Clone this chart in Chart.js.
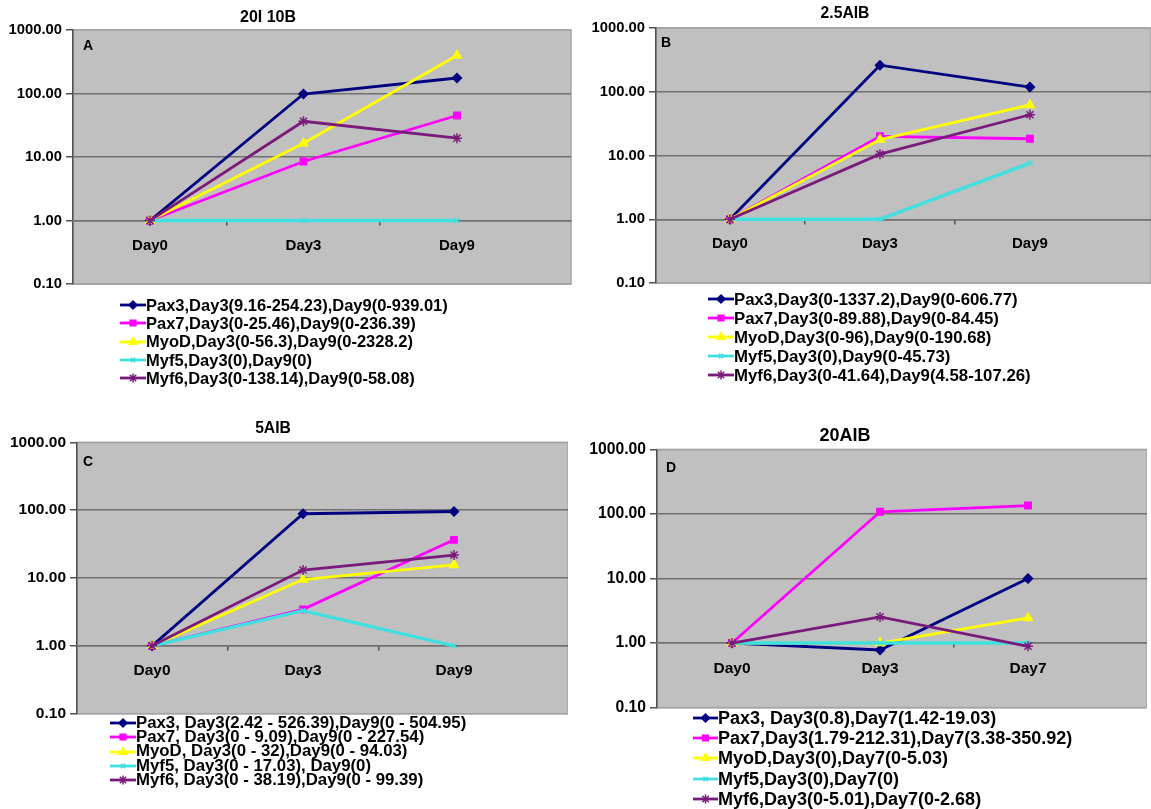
<!DOCTYPE html>
<html><head><meta charset="utf-8">
<script src="https://cdn.jsdelivr.net/npm/chart.js@4.4.1/dist/chart.umd.min.js"></script>
<style>
html,body{margin:0;padding:0;background:#fff;}
body{width:1151px;height:809px;position:relative;overflow:hidden;font-family:'Liberation Sans',Arial,Helvetica,sans-serif;color:#000;}
canvas{position:absolute;}
.title,.letter{position:absolute;font-weight:bold;white-space:nowrap;transform:translate(-50%,-50%);line-height:1;}
.lrow{position:absolute;display:flex;align-items:center;white-space:nowrap;font-weight:bold;}
.lrow canvas{position:static;display:block;}
</style></head><body>
<script>
// ---------- data ----------
const seriesNames = ['Pax3','Pax7','MyoD','Myf5','Myf6'];
const categoriesDay9 = ['Day0','Day3','Day9'];
const categoriesDay7 = ['Day0','Day3','Day7'];
const panelTitles = ['20I 10B','2.5AIB','5AIB','20AIB'];
const panelLetters = ['A','B','C','D'];
const yTickValues = [0.1,1,10,100,1000];
const yTickLabels = ['0.10','1.00','10.00','100.00','1000.00'];

// Panel A (20I 10B)
const pax3A = [1, 98, 175];
const pax7A = [1, 8.5, 45];
const myoDA = [1, 16.5, 395];
const myf5A = [1, 1, 1];
const myf6A = [1, 36.5, 19.8];
// Panel B (2.5AIB)
const pax3B = [1, 260, 118];
const pax7B = [1, 20, 18.3];
const myoDB = [1, 17.8, 62];
const myf5B = [1, 1, 7.6];
const myf6B = [1, 10.5, 43.5];
// Panel C (5AIB)
const pax3C = [1, 88.5, 95.5];
const pax7C = [1, 3.45, 36.5];
const myoDC = [1, 9.5, 15.6];
const myf5C = [1, 3.3, 1];
const myf6C = [1, 13.1, 21.8];
// Panel D (20AIB)
const pax3D = [1, 0.78, 10];
const pax7D = [1, 108, 135];
const myoDD = [1, 1, 2.45];
const myf5D = [1, 1, 1];
const myf6D = [1, 2.54, 0.89];

const legendA = ['Pax3,Day3(9.16-254.23),Day9(0-939.01)','Pax7,Day3(0-25.46),Day9(0-236.39)','MyoD,Day3(0-56.3),Day9(0-2328.2)','Myf5,Day3(0),Day9(0)','Myf6,Day3(0-138.14),Day9(0-58.08)'];
const legendB = ['Pax3,Day3(0-1337.2),Day9(0-606.77)','Pax7,Day3(0-89.88),Day9(0-84.45)','MyoD,Day3(0-96),Day9(0-190.68)','Myf5,Day3(0),Day9(0-45.73)','Myf6,Day3(0-41.64),Day9(4.58-107.26)'];
const legendC = ['Pax3, Day3(2.42 - 526.39),Day9(0 - 504.95)','Pax7, Day3(0 - 9.09),Day9(0 - 227.54)','MyoD, Day3(0 - 32),Day9(0 - 94.03)','Myf5, Day3(0 - 17.03), Day9(0)','Myf6, Day3(0 - 38.19),Day9(0 - 99.39)'];
const legendD = ['Pax3, Day3(0.8),Day7(1.42-19.03)','Pax7,Day3(1.79-212.31),Day7(3.38-350.92)','MyoD,Day3(0),Day7(0-5.03)','Myf5,Day3(0),Day7(0)','Myf6,Day3(0-5.01),Day7(0-2.68)'];

// ---------- styles ----------
const FONT = "'Liberation Sans', Arial, Helvetica, sans-serif";
const seriesColors = ['#000080','#FF00FF','#FFFF00','#40E0E0','#7A1A7A'];
const seriesMarkers = ['rectRot','rect','triangle','crossRot','star'];
const markerRadius = [4.5, 4.5, 5, 3.5, 5];
const lineWidths = [2.8, 2.8, 2.8, 3.4, 2.8];

const panels = [
  {cats:categoriesDay9, series:[pax3A,pax7A,myoDA,myf5A,myf6A], legend:legendA,
   box:[0,17,575,280], pad:{top:10,bottom:10,left:0,right:4}, yWidth:73, xMin:-0.5016, xMax:2.743,
   yFont:14.8, xFont:15, title:[268,17,16], letter:[88,45,14],
   leg:{left:120,top:305,step:18.3,font:16.5,sw:26}},
  {cats:categoriesDay9, series:[pax3B,pax7B,myoDB,myf5B,myf6B], legend:legendB,
   box:[583,15,568,281], pad:{top:10,bottom:10,left:0,right:0}, yWidth:73, xMin:-0.493, xMax:2.807,
   yFont:14.8, xFont:15, title:[845,13,15.7], letter:[666,42,14],
   leg:{left:708,top:299,step:19,font:16.8,sw:26}},
  {cats:categoriesDay9, series:[pax3C,pax7C,myoDC,myf5C,myf6C], legend:legendC,
   box:[0,429,568,298], pad:{top:10,bottom:10,left:0,right:0}, yWidth:77, xMin:-0.497, xMax:2.755,
   yFont:15.5, xFont:15.5, title:[273,428,15.7], letter:[88,461,14],
   leg:{left:110,top:723,step:14.3,font:16.8,sw:26}},
  {cats:categoriesDay7, series:[pax3D,pax7D,myoDD,myf5D,myf6D], legend:legendD,
   box:[584,436,563,285], pad:{top:10,bottom:10,left:0,right:0}, yWidth:73, xMin:-0.507, xMax:2.804,
   yFont:15.7, xFont:15.5, title:[845,435,18], letter:[671,467,14],
   leg:{left:693,top:718,step:20.2,font:18,sw:25}}
];

const plotBg = {
  id:'plotBg',
  beforeDraw(chart){
    const {ctx, chartArea:{left,top,right,bottom}} = chart;
    ctx.save();
    ctx.fillStyle = '#C0C0C0';
    ctx.fillRect(left, top, right-left, bottom-top);
    ctx.strokeStyle = '#A4A4A4';
    ctx.lineWidth = 1.5;
    ctx.strokeRect(left, top, right-left, bottom-top);
    ctx.restore();
  }
};

function drawMarker(ctx, style, x, y, r, color){
  if (window.Chart && Chart.helpers && Chart.helpers.drawPoint){
    ctx.fillStyle = color; ctx.strokeStyle = color; ctx.lineWidth = 1.5;
    Chart.helpers.drawPoint(ctx, {pointStyle:style, radius:r, rotation:0, borderWidth:1.5}, x, y);
  }
}

panels.forEach((p, pi) => {
  const cv = document.createElement('canvas');
  cv.width = p.box[2]; cv.height = p.box[3];
  cv.style.left = p.box[0]+'px'; cv.style.top = p.box[1]+'px';
  cv.style.width = p.box[2]+'px'; cv.style.height = p.box[3]+'px';
  document.body.appendChild(cv);

  const xSlots = [];
  for (let i = 0; i < p.cats.length; i++){ xSlots.push(i); if (i < p.cats.length-1) xSlots.push(i+0.5); }

  const datasets = p.series.map((vals, si) => ({
    label: seriesNames[si],
    data: vals.map((v, i) => ({x:i, y:v})),
    borderColor: seriesColors[si],
    backgroundColor: seriesColors[si],
    pointBackgroundColor: seriesColors[si],
    pointBorderColor: seriesColors[si],
    pointStyle: seriesMarkers[si],
    pointRadius: markerRadius[si],
    pointBorderWidth: 1.5,
    borderWidth: lineWidths[si],
    tension: 0,
    fill: false,
    order: p.series.length - 1 - si
  }));

  new Chart(cv, {
    type: 'line',
    data: {datasets},
    options: {
      responsive: false,
      animation: false,
      devicePixelRatio: 1,
      layout: {padding: p.pad, autoPadding: false},
      plugins: {legend:{display:false}, tooltip:{enabled:false}, title:{display:false}},
      scales: {
        y: {
          type: 'logarithmic', position: 'left', min: 0.1, max: 1000,
          afterBuildTicks: s => { s.ticks = yTickValues.map(v => ({value:v})); },
          afterFit: s => { s.width = p.yWidth; },
          ticks: {
            callback: v => yTickLabels[yTickValues.indexOf(v)],
            font: {family: FONT, size: p.yFont, weight: 'bold'},
            color: '#000', padding: 4, autoSkip: false
          },
          grid: {
            color: c => (c.tick && (c.tick.value === 1000 || c.tick.value === 0.1)) ? '#A4A4A4' : '#707070',
            lineWidth: 1.5, tickLength: 7, tickColor: '#505050', drawTicks: true
          },
          border: {color: '#505050', width: 1.5}
        },
        x: {
          type: 'linear', position: {y: 1}, min: p.xMin, max: p.xMax,
          afterBuildTicks: s => { s.ticks = xSlots.map(v => ({value:v})); },
          ticks: {
            callback: v => Number.isInteger(v) ? p.cats[v] : '',
            font: {family: FONT, size: p.xFont, weight: 'bold'},
            color: '#000', padding: 12, autoSkip: false, maxRotation: 0, minRotation: 0
          },
          grid: {
            drawOnChartArea: false, tickLength: 4, lineWidth: 1.5,
            tickColor: c => (c.tick && !Number.isInteger(c.tick.value)) ? '#505050' : 'rgba(0,0,0,0)'
          },
          border: {color: '#707070', width: 1.5}
        }
      }
    },
    plugins: [plotBg]
  });

  const t = document.createElement('div');
  t.className = 'title'; t.textContent = panelTitles[pi];
  t.style.left = p.title[0]+'px'; t.style.top = p.title[1]+'px'; t.style.fontSize = p.title[2]+'px';
  document.body.appendChild(t);

  const l = document.createElement('div');
  l.className = 'letter'; l.textContent = panelLetters[pi];
  l.style.left = p.letter[0]+'px'; l.style.top = p.letter[1]+'px'; l.style.fontSize = p.letter[2]+'px';
  document.body.appendChild(l);

  p.legend.forEach((txt, si) => {
    const row = document.createElement('div');
    row.className = 'lrow';
    const h = Math.max(p.leg.step, 14);
    row.style.left = p.leg.left+'px';
    row.style.top = (p.leg.top + si*p.leg.step - h/2)+'px';
    row.style.height = h+'px';
    row.style.fontSize = p.leg.font+'px';
    row.style.lineHeight = h+'px';
    const sw = document.createElement('canvas');
    sw.width = p.leg.sw; sw.height = 14;
    sw.style.width = p.leg.sw+'px'; sw.style.height = '14px';
    const c = sw.getContext('2d');
    c.strokeStyle = seriesColors[si]; c.lineWidth = 2.8;
    c.beginPath(); c.moveTo(0, 7); c.lineTo(p.leg.sw, 7); c.stroke();
    drawMarker(c, seriesMarkers[si], p.leg.sw/2, 7, markerRadius[si]-0.5, seriesColors[si]);
    row.appendChild(sw);
    const sp = document.createElement('span');
    sp.textContent = txt;
    row.appendChild(sp);
    document.body.appendChild(row);
  });
});
</script>
</body></html>
